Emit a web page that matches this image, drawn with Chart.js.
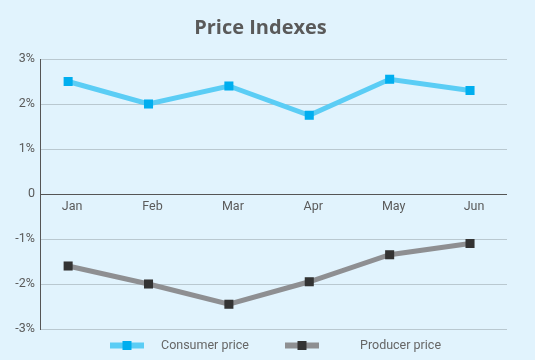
<!DOCTYPE html>
<html>
<head>
<meta charset="utf-8">
<script src="https://cdn.jsdelivr.net/npm/chart.js@4/dist/chart.umd.min.js"></script>
<style>
  html, body { margin: 0; padding: 0; background: #e1f3fd; }
  #wrap { width: 535px; height: 360px; }
</style>
</head>
<body>
<div id="wrap"><canvas id="priceChart" width="535" height="360"></canvas></div>
<script>
// data
const months = ["Jan", "Feb", "Mar", "Apr", "May", "Jun"];
const consumerPrice = [2.5, 2.0, 2.4, 1.75, 2.55, 2.3];
const producerPrice = [-1.6, -2.0, -2.45, -1.95, -1.35, -1.1];
const yTickValues = [-3, -2, -1, 0, 1, 2, 3];
const seriesNames = ["Consumer price", "Producer price"];

// colours
const BG = "#e1f3fd";
const TEXT = "#5a5a5a";
const GRID = "#b9c8d0";
const AXIS = "#555555";

function toPoints(arr){ return arr.map((v, i) => ({ x: i, y: v })); }

// paint the background
const bgPlugin = {
  id: "bg",
  beforeDraw(chart){
    const c = chart.ctx;
    c.save();
    c.fillStyle = BG;
    c.fillRect(0, 0, chart.width, chart.height);
    c.restore();
  }
};

// legend at the bottom: line + square + label
const legendPlugin = {
  id: "lineLegend",
  afterDraw(chart){
    const c = chart.ctx;
    const y = 345.5;
    const slots = [{ x: 110, tx: 161 }, { x: 285, tx: 360 }];
    c.save();
    chart.data.datasets.forEach((ds, i) => {
      const s = slots[i];
      c.strokeStyle = ds.borderColor;
      c.lineWidth = 6;
      c.beginPath();
      c.moveTo(s.x, y);
      c.lineTo(s.x + 34, y);
      c.stroke();
      c.fillStyle = ds.pointBackgroundColor;
      c.fillRect(s.x + 17 - 4.5, y - 4.5, 9, 9);
      c.fillStyle = "#666";
      c.font = "12.5px Roboto";
      c.textBaseline = "middle";
      c.textAlign = "left";
      c.fillText(ds.label, s.tx, y);
    });
    c.restore();
  }
};

const ctx = document.getElementById("priceChart").getContext("2d");
new Chart(ctx, {
  type: "line",
  data: {
    datasets: [
      {
        label: seriesNames[0],
        data: toPoints(consumerPrice),
        borderColor: "#5bcdf5",
        borderWidth: 5,
        pointStyle: "rect",
        pointRadius: 6.4,
        pointBorderWidth: 0,
        pointBackgroundColor: "#00aeef",
        tension: 0
      },
      {
        label: seriesNames[1],
        data: toPoints(producerPrice),
        borderColor: "#8e8f92",
        borderWidth: 5,
        pointStyle: "rect",
        pointRadius: 6.4,
        pointBorderWidth: 0,
        pointBackgroundColor: "#333333",
        tension: 0
      }
    ]
  },
  options: {
    responsive: false,
    animation: false,
    // left padding + narrow y axis keeps plot at x=40 but centres the title like the original
    layout: { padding: { left: 14, right: 28, top: 0, bottom: 31 } },
    plugins: {
      legend: { display: false },
      tooltip: { enabled: false },
      title: {
        display: true,
        text: "Price Indexes",
        color: TEXT,
        font: { family: "Open Sans", size: 20, weight: "bold", lineHeight: 1.2 },
        padding: { top: 16, bottom: 19 }
      }
    },
    scales: {
      x: {
        type: "linear",
        position: { y: 0 },
        min: -0.35,
        max: 5.46,
        afterBuildTicks: s => { s.ticks = months.map((m, i) => ({ value: i })); },
        grid: { display: false, drawTicks: false },
        border: { display: false },
        ticks: {
          color: TEXT,
          padding: 5,
          labelOffset: 4,
          font: { family: "Roboto", size: 12.5 },
          callback: v => months[v] || ""
        }
      },
      y: {
        min: -3,
        max: 3,
        afterBuildTicks: s => { s.ticks = yTickValues.map(v => ({ value: v })); },
        afterFit: s => { s.width = 26; },
        grid: {
          color: c => c.tick && c.tick.value === 0 ? AXIS : GRID,
          lineWidth: 1,
          drawTicks: false
        },
        border: { display: true, color: AXIS, width: 1 },
        ticks: {
          color: TEXT,
          padding: 5,
          font: { family: "Roboto", size: 12.5 },
          callback: v => v === 0 ? "0" : v + "%"
        }
      }
    }
  },
  plugins: [bgPlugin, legendPlugin]
});
</script>
</body>
</html>
